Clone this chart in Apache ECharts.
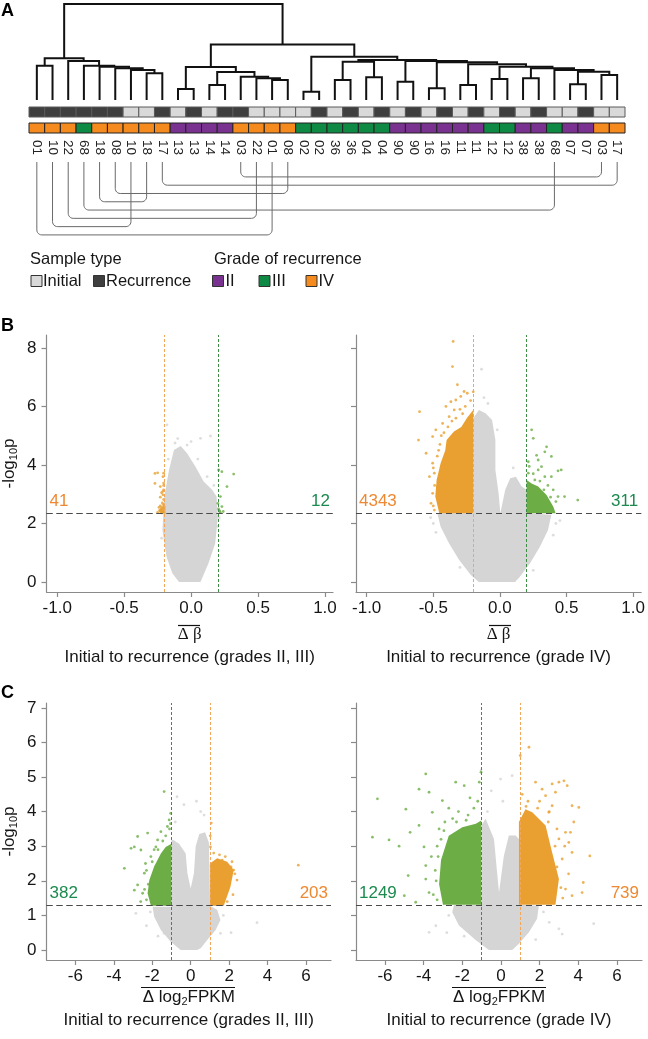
<!DOCTYPE html>
<html><head><meta charset="utf-8">
<script src="https://cdn.jsdelivr.net/npm/echarts@6/dist/echarts.min.js"></script>
<style>html,body{margin:0;padding:0;background:#fff}#c{width:648px;height:1039px}</style>
</head><body><div id="c"></div>
<script>
// ---------- Panel A data ----------
const leafLabels = ['01','10','22','68','18','08','10','18','17','13','13','14','14','03','22','01','08','02','02','36','36','04','04','90','90','16','16','11','11','12','12','38','38','68','07','07','03','17'];
const sampleType = ['R','R','R','R','R','R','I','I','R','I','R','I','R','R','I','I','I','I','R','I','R','I','R','I','R','I','R','I','R','I','R','I','R','I','I','R','I','I'];
const gradeOfRecurrence = ['IV','IV','IV','III','IV','IV','IV','IV','IV','II','II','II','II','IV','IV','IV','IV','III','III','III','III','III','III','II','II','II','II','II','II','III','III','II','II','III','II','II','IV','IV'];
// hclust-style merges: negative = leaf (1-based), positive = earlier merge row; third = height
const merges = [
  [-8,-9,26.7],[-7,1,30],[-6,2,31.7],[-5,3,33.3],[-4,4,34.3],[-1,-2,34.3],[-3,5,39],[6,7,41.7],
  [-10,-11,11],[-12,-13,15],[-16,-17,20],[-15,11,21.7],[-14,12,23.3],[10,13,28],[9,14,33],
  [-18,-19,8.3],[-20,-21,20],[-22,-23,22.7],[17,18,38.3],[-24,-25,18.3],[-26,-27,11.7],[-28,-29,15],
  [-30,-31,21],[-32,-33,21.7],[-35,-36,15.7],[-37,-38,25],[25,26,28.3],[-34,27,30],[24,28,31.7],
  [23,29,33.3],[22,30,35.7],[21,31,37.7],[20,32,39],[19,33,40],[16,34,43.3],[15,35,55.5],[8,36,96]
];
// same-patient links (leaf positions, 1-based)
const patientLinks = [[14,37],[9,38],[6,17],[5,8],[4,34],[3,15],[2,7],[1,16]];

// ---------- Panel B data (methylation) ----------
const bThreshold = 2.35, bDelta = 0.2;
const bCounts = [[41,12],[4343,311]];
const bTicksX = [-1,-0.5,0,0.5,1], bTicksY = [0,2,4,6,8];
const blGrayArea = [[-0.09,0],[0.07,0],[0.13,0.64],[0.18,1.32],[0.2,2.23],[0.19,2.92],[0.157,3.15],[0.095,3.43],[0.033,3.94],[-0.03,4.4],[-0.078,4.65],[-0.128,4.51],[-0.165,3.83],[-0.2,2.92],[-0.214,1.78],[-0.184,0.87],[-0.14,0.3]];
const blGrayPts = [[0.07,4.91],[0.145,4.99],[-0.18,5.37],[-0.03,4.68],[-0.12,4.75],[0.0,4.8],[-0.17,4.2],[0.12,3.6],[0.17,3.3],[0.05,4.2],[-0.1,4.9],[0.2,1.9],[0.21,2.2],[-0.22,1.5]];
const blOrangePts = [[-0.27,3.71],[-0.25,3.73],[-0.205,3.72],[-0.21,3.6],[-0.27,3.37],[-0.205,3.38],[-0.23,3.26],[-0.205,3.15],[-0.22,3.05],[-0.21,2.98],[-0.23,2.9],[-0.205,2.82],[-0.215,2.7],[-0.23,2.6],[-0.205,2.65],[-0.22,2.5],[-0.235,2.45],[-0.21,2.4],[-0.2,2.48],[-0.25,2.38],[-0.22,2.55],[-0.205,2.42],[-0.215,2.45],[-0.225,2.4],[-0.21,2.52],[-0.2,2.38],[-0.225,2.47],[-0.215,2.37],[-0.23,2.42],[-0.205,2.6],[-0.21,3.1],[-0.205,3.3],[-0.24,2.55],[-0.22,2.36],[-0.2,2.56]];
const blGreenPts = [[0.206,3.83],[0.23,3.77],[0.318,3.69],[0.268,3.26],[0.219,2.92],[0.23,2.58],[0.213,2.41],[0.219,2.37],[0.24,2.41],[0.2,2.69],[0.205,2.5],[0.21,2.45]];
const brGrayArea = [[-0.158,0],[-0.22,0.25],[-0.307,0.76],[-0.381,1.32],[-0.445,1.89],[-0.47,2.35],[-0.2,2.35],[-0.2,5.6],[-0.158,5.88],[-0.108,5.77],[-0.059,5.54],[-0.034,4.85],[-0.034,3.83],[-0.01,3.03],[0.003,2.35],[0.04,3.15],[0.077,3.55],[0.12,3.6],[0.163,3.26],[0.2,3.15],[0.2,2.35],[0.386,2.3],[0.361,1.78],[0.3,1.21],[0.226,0.64],[0.15,0.18],[0.114,0]];
const brGrayPts = [[-0.138,7.27],[-0.09,6.1],[-0.12,6.3],[0.1,3.9],[-0.02,5.2],[0.45,2.1],[-0.5,2.0],[-0.52,2.2],[0.42,2.0],[0.4,1.6],[-0.48,1.7],[-0.3,0.5],[0.25,0.4]];
const brOrangeArea = [[-0.2,2.35],[-0.455,2.35],[-0.485,2.92],[-0.475,3.49],[-0.445,4.06],[-0.41,4.5],[-0.4,4.85],[-0.345,5.14],[-0.29,5.3],[-0.245,5.62],[-0.2,5.88]];
const brOrangePts = [[-0.351,8.22],[-0.356,7.36],[-0.319,6.74],[-0.269,6.51],[-0.245,6.45],[-0.294,6.34],[-0.331,6.22],[-0.368,6.16],[-0.343,5.88],[-0.405,6.0],[-0.603,5.82],[-0.381,5.65],[-0.43,5.42],[-0.481,5.2],[-0.505,4.97],[-0.611,4.85],[-0.554,4.4],[-0.505,4.06],[-0.492,3.72],[-0.529,3.6],[-0.468,3.26],[-0.505,3.03],[-0.517,2.69],[-0.492,2.46],[-0.42,5.1],[-0.45,4.7],[-0.36,5.5],[-0.3,5.9],[-0.22,6.2],[-0.26,6.0],[-0.5,3.9],[-0.47,4.3],[-0.2,6.5],[-0.44,5.0],[-0.39,5.3],[-0.33,5.6],[-0.28,5.75],[-0.46,4.5],[-0.49,3.3],[-0.5,2.6]];
const brGreenArea = [[0.2,2.35],[0.2,3.49],[0.238,3.37],[0.287,3.26],[0.35,2.97],[0.4,2.58],[0.418,2.35]];
const brGreenPts = [[0.238,5.2],[0.25,4.91],[0.35,4.62],[0.337,4.45],[0.275,4.33],[0.386,4.29],[0.287,4.17],[0.213,4.11],[0.436,3.8],[0.46,3.83],[0.386,3.6],[0.337,3.6],[0.287,3.83],[0.485,2.92],[0.584,2.8],[0.436,2.92],[0.4,3.15],[0.262,3.49],[0.213,3.72],[0.312,3.94],[0.22,3.95],[0.25,3.7],[0.3,3.45],[0.36,3.3],[0.42,2.75],[0.38,2.9],[0.33,3.15]];

// ---------- Panel C data (expression) ----------
const cThreshold = 1.3, cDelta = 1;
const cCounts = [[382,203],[1249,739]];
const cTicksX = [-6,-4,-2,0,2,4,6], cTicksY = [0,1,2,3,4,5,6,7];
const clGrayArea = [[-0.52,0],[-1.04,0.24],[-1.55,0.58],[-1.9,0.96],[-1.98,1.25],[-1,1.25],[-1,3.18],[-0.9,3.18],[-0.6,3.07],[-0.26,2.79],[-0.17,2.22],[0.0,1.78],[0.17,2.22],[0.26,3.0],[0.45,3.35],[0.75,3.4],[0.95,3.1],[1,1.28],[1.38,1.16],[1.55,0.87],[1.3,0.58],[0.86,0.29],[0.52,0.05],[0.34,0]];
const clGrayPts = [[-0.71,4.43],[0.52,4.0],[-2.85,1.06],[3.45,0.79],[1.55,0.48],[-1.38,0.48],[-0.35,4.2],[0.3,4.3],[-2.3,0.7],[2.1,0.5],[-0.8,3.7],[0.7,3.9],[-2.1,1.1],[1.7,1.0],[-1.7,0.4]];
const clGreenArea = [[-1,1.28],[-2.07,1.28],[-2.24,1.64],[-2.15,2.02],[-1.9,2.41],[-1.55,2.79],[-1.3,2.98],[-1,3.07]];
const clGreenPts = [[-1.38,4.58],[-2.76,3.28],[-3.1,2.94],[-2.93,2.98],[-2.59,2.89],[-2.24,3.38],[-3.45,2.36],[-2.93,1.73],[-2.76,1.88],[-2.41,2.22],[-2.07,2.7],[-1.72,3.18],[-1.55,3.42],[-1.21,3.57],[-1.12,3.76],[-1.04,3.95],[-1.81,2.98],[-2.5,1.64],[-1.3,3.3],[-1.1,3.5],[-2.2,1.9],[-2.35,2.5],[-1.9,2.9],[-1.45,3.15],[-1.05,3.65],[-2.6,1.4],[-2.3,1.45],[-2.3,2.3],[-2.0,2.55],[-1.7,2.9],[-2.4,1.75]];
const clOrangeArea = [[1,1.28],[1,2.5],[1.38,2.65],[1.9,2.55],[2.24,2.31],[2.07,1.83],[1.72,1.28]];
const clOrangePts = [[1.07,3.67],[1.64,2.6],[2.15,2.55],[2.24,2.31],[2.07,2.12],[2.41,2.02],[5.6,2.45],[1.03,2.98],[1.2,2.8],[1.5,2.75],[1.8,2.7],[2.3,2.2],[1.02,3.3],[2.2,1.6],[1.9,1.4],[2.1,2.4]];
const crGrayArea = [[-0.62,0],[-1.31,0.29],[-2.17,0.71],[-2.52,1.09],[-2.43,1.31],[-1.02,1.31],[-1.02,3.6],[-0.79,3.79],[-0.36,3.21],[-0.1,1.66],[0.15,2.72],[0.41,3.31],[0.76,3.31],[0.93,3.21],[0.93,1.31],[1.96,1.28],[1.87,0.9],[1.45,0.51],[0.93,0.18],[0.58,0]];
const crGrayPts = [[0.58,5.04],[-0.02,4.94],[-3.72,0.51],[-3.37,0.7],[3.0,0.61],[4.8,0.76],[3.17,0.46],[-1.03,5.2],[0.1,4.3],[-0.5,4.6],[-2.8,0.5],[2.5,0.8],[-0.7,4.0],[-2.7,1.0],[2.2,1.1],[-1.9,0.4],[1.8,0.3]];
const crGreenArea = [[-1.02,1.31],[-3.0,1.31],[-3.2,1.9],[-3.1,2.6],[-2.7,3.3],[-2.0,3.55],[-1.3,3.65],[-1.02,3.74]];
const crGreenPts = [[-6.39,4.37],[-6.65,3.26],[-5.79,3.18],[-4.92,4.07],[-5.27,3.0],[-4.7,3.4],[-4.8,2.15],[-4.24,4.65],[-3.89,5.09],[-3.72,4.56],[-3.98,2.98],[-3.89,2.44],[-4.41,1.38],[-5.0,1.57],[-2.34,4.85],[-1.9,4.75],[-3.03,4.32],[-3.55,3.98],[-1.03,5.14],[-1.12,4.85],[-4.24,3.6],[-3.89,2.05],[-3.72,1.66],[-3.4,2.3],[-3.5,1.6],[-3.3,3.0],[-2.9,3.7],[-2.5,3.8],[-2.2,4.0],[-1.7,3.9],[-1.4,4.1],[-1.2,4.3],[-2.7,4.1],[-3.2,3.5],[-3.6,2.7],[-1.6,4.4],[-3.3,1.45],[-3.35,2.0],[-3.25,2.7],[-2.95,3.45],[-2.3,3.7],[-1.8,3.75],[-3.1,3.2]];
const crOrangeArea = [[0.93,1.31],[0.93,3.7],[1.27,4.07],[1.62,3.98],[2.31,3.6],[2.65,2.82],[3.0,2.05],[2.82,1.31]];
const crOrangePts = [[1.45,5.86],[1.0,5.62],[2.65,4.8],[3.0,4.85],[3.26,4.89],[3.43,4.75],[2.82,4.56],[3.68,4.17],[4.03,4.12],[3.77,3.7],[3.34,3.4],[3.51,3.11],[3.68,2.82],[3.0,3.21],[3.17,2.63],[2.65,4.17],[2.31,4.46],[1.79,4.85],[4.6,2.72],[4.26,1.95],[4.2,1.66],[3.68,1.57],[3.34,1.76],[2.65,1.66],[2.13,4.65],[2.48,3.98],[3.2,1.5],[3.5,2.2],[2.9,3.5],[2.5,4.0],[1.4,4.3],[1.1,4.5],[3.3,3.0],[2.0,4.3],[3.6,3.4],[3.1,1.8],[2.9,2.4],[2.8,3.0],[2.45,3.7],[1.9,4.1],[1.3,4.15]];

// ---------- colours ----------
const FONT = '"Liberation Sans", Arial, Helvetica, sans-serif';
const GRAY = '#d5d5d5', ORANGE = '#E9A031', GREEN = '#6CAE45';
const ORANGE_TXT = '#EE8933', GREEN_TXT = '#1C8A4F';
const typeColor = {I:'#d9d9d9', R:'#3f3f3f'};
const gradeColor = {II:'#7A3290', III:'#0E8A45', IV:'#F58A1F'};
const AXIS = '#8a8a8a', TXT = '#161616';

// ---------- dendrogram layout ----------
const nodeX = [];
function nodePos(ref){ return ref < 0 ? [-ref - 0.5, 0] : [nodeX[ref-1], merges[ref-1][2]]; }
merges.forEach((m,k)=>{ const a = nodePos(m[0]), b = nodePos(m[1]); nodeX[k] = (a[0]+b[0])/2; });

// ---------- helpers ----------
function areaSeries(gi, pts, color, z){
  return {type:'custom', xAxisIndex:gi, yAxisIndex:gi, data:pts, z:z, silent:true, clip:true,
    renderItem:(params, api)=>{
      if (params.dataIndex !== 0) return;
      return {type:'polygon', shape:{points: pts.map(p=>api.coord(p))}, style:{fill:color}};
    }};
}
function ptSeries(gi, pts, color, z, extra){
  return Object.assign({type:'scatter', xAxisIndex:gi, yAxisIndex:gi, data:pts, z:z, silent:true,
    symbolSize:2.8, itemStyle:{color:color}}, extra||{});
}
function markLines(thr, delta, counts, loColor, hiColor, loTxt, hiTxt){
  const lab = (txt,color,pos)=>({show:true, position:pos, formatter:String(txt), color:color, fontSize:17, fontFamily:FONT, distance:3});
  return {silent:true, symbol:['none','none'], animation:false,
    data:[
      {yAxis:thr, label:lab(counts[0], loTxt, 'insideStartTop'), lineStyle:{color:'#4a4a4a', type:[6,4], width:1.2}},
      {yAxis:thr, label:lab(counts[1], hiTxt, 'insideEndTop'), lineStyle:{color:'#4a4a4a', type:[6,4], width:1.2}},
      {xAxis:-delta, label:{show:false}, lineStyle:{color:loColor, type:[3,2], width:1}},
      {xAxis:delta, label:{show:false}, lineStyle:{color:hiColor, type:[3,2], width:1}}
    ]};
}
const ylogName = '{a|-log}{s|10}{a|p}';
const nameRich = {
  a:{fontFamily:FONT, fontSize:17, color:TXT, lineHeight:20},
  d:{fontFamily:FONT, fontSize:17, color:TXT, lineHeight:20},
  g:{fontFamily:'"Liberation Serif","DejaVu Serif",serif', fontSize:17, color:TXT, lineHeight:18},
  s:{fontFamily:FONT, fontSize:11, color:TXT, lineHeight:8, verticalAlign:'bottom'},
  c:{fontFamily:FONT, fontSize:17, color:TXT, lineHeight:26}
};
function vX(gi, min, max, ticks, fmt, name, gap){
  return {type:'value', gridIndex:gi, min:min, max:max, splitLine:{show:false},
    axisLine:{show:true, onZero:false, lineStyle:{color:AXIS, width:1.2}},
    axisTick:{show:true, length:5, customValues:ticks, lineStyle:{color:AXIS, width:1.2}},
    axisLabel:{customValues:ticks, formatter:fmt, fontSize:17, fontFamily:FONT, color:TXT, margin:8},
    name:name, nameLocation:'middle', nameGap:gap, nameTextStyle:{rich:nameRich}};
}
function vY(gi, min, max, ticks, showLabels){
  const o = {type:'value', gridIndex:gi, min:min, max:max, splitLine:{show:false},
    axisLine:{show:true, onZero:false, lineStyle:{color:AXIS, width:1.2}},
    axisTick:{show:true, length:5, customValues:ticks, lineStyle:{color:AXIS, width:1.2}},
    axisLabel:{show:showLabels, customValues:ticks, fontSize:17, fontFamily:FONT, color:TXT, margin:10}};
  if (showLabels){ Object.assign(o, {name:ylogName, nameLocation:'middle', nameRotate:90, nameGap:27, nameTextStyle:{rich:nameRich}}); }
  return o;
}
const fmtB = v => v.toFixed(1);
const fmtC = v => String(v);
const bName = '{g|Δ β}\n{c|Initial to recurrence (grades II, III)}';
const bName2 = '{g|Δ β}\n{c|Initial to recurrence (grade IV)}';
const cName = '{d|Δ log}{s|2}{d|FPKM}\n{c|Initial to recurrence (grades II, III)}';
const cName2 = '{d|Δ log}{s|2}{d|FPKM}\n{c|Initial to recurrence (grade IV)}';

const chart = echarts.init(document.getElementById('c'), null, {renderer:'canvas'});
const option = {
  animation:false,
  backgroundColor:'#fff',
  grid:[
    {left:29, top:4, width:596, height:96},
    {left:29, top:107, width:596, height:26},
    {left:29, top:162, width:596, height:81.2},
    {left:45, top:335, width:288, height:257},
    {left:356, top:335, width:288, height:257},
    {left:45, top:703, width:286, height:257},
    {left:356, top:703, width:286, height:257}
  ],
  xAxis:[
    {type:'value', gridIndex:0, min:0, max:38, show:false},
    {type:'category', gridIndex:1, data:leafLabels, axisLine:{show:false}, axisTick:{show:false},
      axisLabel:{rotate:-90, interval:0, margin:7, fontSize:13.5, fontFamily:FONT, color:'#222'}},
    {type:'value', gridIndex:2, min:0, max:38, show:false},
    vX(3, -1.08, 1.06, bTicksX, fmtB, bName, 34),
    vX(4, -1.08, 1.06, bTicksX, fmtB, bName2, 34),
    vX(5, -7.5, 7.3, cTicksX, fmtC, cName, 27),
    vX(6, -7.5, 7.3, cTicksX, fmtC, cName2, 27)
  ],
  yAxis:[
    {type:'value', gridIndex:0, min:0, max:96, show:false},
    {type:'value', gridIndex:1, min:0, max:26, inverse:true, show:false},
    {type:'value', gridIndex:2, min:-0.8, max:9, inverse:true, show:false},
    vY(3, -0.34, 8.44, bTicksY, true),
    vY(4, -0.34, 8.44, bTicksY, false),
    vY(5, -0.29, 7.14, cTicksY, true),
    vY(6, -0.29, 7.14, cTicksY, false)
  ],
  series:[
    // dendrogram
    {type:'custom', xAxisIndex:0, yAxisIndex:0, silent:true, clip:false,
      data: merges.map((m,k)=>[nodeX[k], m[2]]),
      renderItem:(params, api)=>{
        const m = merges[params.dataIndex];
        const a = nodePos(m[0]), b = nodePos(m[1]);
        const pts = [[a[0],a[1]],[a[0],m[2]],[b[0],m[2]],[b[0],b[1]]].map(p=>api.coord(p));
        return {type:'polyline', shape:{points:pts}, style:{stroke:'#111', lineWidth:2, fill:'none'}};
      }},
    // sample type / grade strips
    {type:'custom', xAxisIndex:1, yAxisIndex:1, silent:true, clip:false,
      data: leafLabels.map((l,i)=>[i,0]),
      renderItem:(params, api)=>{
        const i = params.dataIndex;
        const c = api.coord([i,0]); const w = api.size([1,0])[0];
        const y0 = api.coord([i,0])[1], y1 = api.coord([i,10])[1], y2 = api.coord([i,16])[1], y3 = api.coord([i,26])[1];
        return {type:'group', children:[
          {type:'rect', shape:{x:c[0]-w/2, y:y0, width:w, height:y1-y0}, style:{fill:typeColor[sampleType[i]], stroke:'#5a5a5a', lineWidth:1}},
          {type:'rect', shape:{x:c[0]-w/2, y:y2, width:w, height:y3-y2}, style:{fill:gradeColor[gradeOfRecurrence[i]], stroke:'#222', lineWidth:1}}
        ]};
      }},
    // patient links
    {type:'custom', xAxisIndex:2, yAxisIndex:2, silent:true, clip:false,
      data: patientLinks.map((l,k)=>[l[0]-0.5, k+1]),
      renderItem:(params, api)=>{
        const k = params.dataIndex, l = patientLinks[k], lev = k+1;
        const pa0 = api.coord([l[0]-0.5, -0.8]), paL = api.coord([l[0]-0.5, lev]);
        const pb0 = api.coord([l[1]-0.5, -0.8]);
        const r = 5, pts = [];
        const xa = pa0[0], xb = pb0[0], y0 = pa0[1], yL = paL[1];
        pts.push([xa,y0]);
        for (let t=0;t<=6;t++){ const th = Math.PI - t*(Math.PI/2)/6; pts.push([xa+r + r*Math.cos(th), yL-r + r*Math.sin(th)]); }
        for (let t=0;t<=6;t++){ const th = Math.PI/2 - t*(Math.PI/2)/6; pts.push([xb-r + r*Math.cos(th), yL-r + r*Math.sin(th)]); }
        pts.push([xb,y0]);
        return {type:'polyline', shape:{points:pts}, style:{stroke:'#6a6a6a', lineWidth:1, fill:'none'}};
      }},
    // B left
    areaSeries(3, blGrayArea, GRAY, 1),
    ptSeries(3, blGrayPts, GRAY, 1),
    ptSeries(3, blOrangePts, ORANGE, 3),
    ptSeries(3, blGreenPts, GREEN, 3, {markLine: markLines(bThreshold, bDelta, bCounts[0], '#F2A65A', '#3F8C46', ORANGE_TXT, GREEN_TXT)}),
    // B right
    areaSeries(4, brGrayArea, GRAY, 1),
    ptSeries(4, brGrayPts, GRAY, 1),
    areaSeries(4, brOrangeArea, ORANGE, 2),
    ptSeries(4, brOrangePts, ORANGE, 3),
    areaSeries(4, brGreenArea, GREEN, 2),
    ptSeries(4, brGreenPts, GREEN, 3, {markLine: markLines(bThreshold, bDelta, bCounts[1], '#F2A65A', '#3F8C46', ORANGE_TXT, GREEN_TXT)}),
    // C left
    areaSeries(5, clGrayArea, GRAY, 1),
    ptSeries(5, clGrayPts, GRAY, 1),
    areaSeries(5, clGreenArea, GREEN, 2),
    ptSeries(5, clGreenPts, GREEN, 3),
    areaSeries(5, clOrangeArea, ORANGE, 2),
    ptSeries(5, clOrangePts, ORANGE, 3, {markLine: markLines(cThreshold, cDelta, cCounts[0], '#3F8C46', '#F2A65A', GREEN_TXT, ORANGE_TXT)}),
    // C right
    areaSeries(6, crGrayArea, GRAY, 1),
    ptSeries(6, crGrayPts, GRAY, 1),
    areaSeries(6, crGreenArea, GREEN, 2),
    ptSeries(6, crGreenPts, GREEN, 3),
    areaSeries(6, crOrangeArea, ORANGE, 2),
    ptSeries(6, crOrangePts, ORANGE, 3, {markLine: markLines(cThreshold, cDelta, cCounts[1], '#3F8C46', '#F2A65A', GREEN_TXT, ORANGE_TXT)})
  ],
  graphic:[
    {type:'text', left:1, top:2, style:{text:'A', font:'bold 18px '+FONT, fill:'#000'}},
    {type:'text', left:1, top:317, style:{text:'B', font:'bold 18px '+FONT, fill:'#000'}},
    {type:'text', left:1, top:684, style:{text:'C', font:'bold 18px '+FONT, fill:'#000'}},
    // legend
    {type:'text', x:30, y:259, style:{text:'Sample type', font:'16.5px '+FONT, fill:TXT, verticalAlign:'middle'}},
    {type:'text', x:214, y:259, style:{text:'Grade of recurrence', font:'16.5px '+FONT, fill:TXT, verticalAlign:'middle'}},
    {type:'rect', shape:{x:31, y:275.5, width:11, height:11}, style:{fill:typeColor.I, stroke:'#333', lineWidth:1}},
    {type:'text', x:43, y:281, style:{text:'Initial', font:'16.5px '+FONT, fill:TXT, verticalAlign:'middle'}},
    {type:'rect', shape:{x:93.5, y:275.5, width:11, height:11}, style:{fill:typeColor.R, stroke:'#333', lineWidth:1}},
    {type:'text', x:106, y:281, style:{text:'Recurrence', font:'16.5px '+FONT, fill:TXT, verticalAlign:'middle'}},
    {type:'rect', shape:{x:212.5, y:275.5, width:11, height:11}, style:{fill:gradeColor.II, stroke:'#333', lineWidth:1}},
    {type:'text', x:225.5, y:281, style:{text:'II', font:'16.5px '+FONT, fill:TXT, verticalAlign:'middle'}},
    {type:'rect', shape:{x:259, y:275.5, width:11, height:11}, style:{fill:gradeColor.III, stroke:'#333', lineWidth:1}},
    {type:'text', x:272, y:281, style:{text:'III', font:'16.5px '+FONT, fill:TXT, verticalAlign:'middle'}},
    {type:'rect', shape:{x:306, y:275.5, width:11, height:11}, style:{fill:gradeColor.IV, stroke:'#333', lineWidth:1}},
    {type:'text', x:318.5, y:281, style:{text:'IV', font:'16.5px '+FONT, fill:TXT, verticalAlign:'middle'}},
    // overlines of the x-axis titles
    {type:'line', shape:{x1:178, y1:625.5, x2:200, y2:625.5}, style:{stroke:'#111', lineWidth:1.2}},
    {type:'line', shape:{x1:489, y1:625.5, x2:511, y2:625.5}, style:{stroke:'#111', lineWidth:1.2}},
    {type:'line', shape:{x1:141, y1:987.5, x2:235, y2:987.5}, style:{stroke:'#111', lineWidth:1.2}},
    {type:'line', shape:{x1:452, y1:987.5, x2:546, y2:987.5}, style:{stroke:'#111', lineWidth:1.2}}
  ]
};
chart.setOption(option);
</script>
</body></html>
